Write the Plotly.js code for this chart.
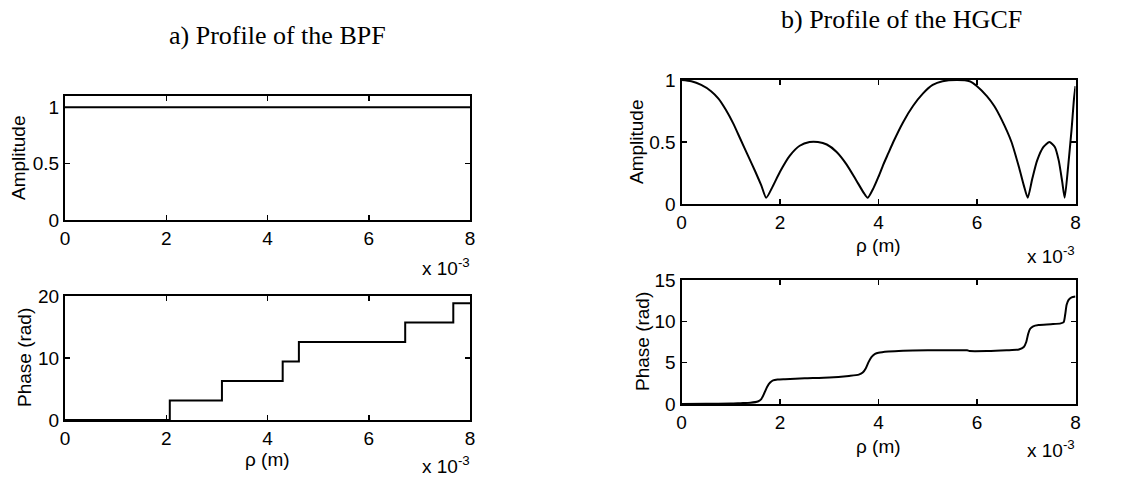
<!DOCTYPE html>
<html>
<head>
<meta charset="utf-8">
<script src="https://cdn.plot.ly/plotly-3.0.1.min.js"></script>
<style>
  html, body { margin: 0; padding: 0; background: #ffffff; }
  #chart { width: 1138px; height: 478px; }
</style>
</head>
<body>
<div id="chart"></div>
<script>
// ---- Data (rho in units of 1e-3 m) ----
var tickValsX = [0, 2, 4, 6, 8];
var tickTextX = ["0", "2", "4", "6", "8"];

// a) BPF
var bpfRho = [0, 8];
var bpfAmp = [1, 1];
var bpfStepRho = [0, 2.07, 3.10, 4.30, 4.62, 6.72, 7.67, 8.0];
var bpfPhase = [0, 3.1416, 6.2832, 9.4248, 12.5664, 15.708, 18.8496, 18.8496];

// b) HGCF
var hgcfRho = [0, 0.2, 0.4, 0.6, 0.75, 0.9, 1.05, 1.2, 1.35, 1.5,
  1.62, 1.72, 1.85, 2.0, 2.2, 2.4, 2.6, 2.77, 2.95, 3.15,
  3.35, 3.55, 3.7, 3.78, 3.9, 4.0, 4.1, 4.2, 4.3, 4.5,
  4.7, 4.9, 5.1, 5.3, 5.6, 5.85, 6.0, 6.2, 6.35, 6.5,
  6.7, 6.85, 6.95, 7.03, 7.12, 7.22, 7.35, 7.47, 7.58, 7.66,
  7.73, 7.78, 7.85, 7.92, 7.97, 8.0];
var hgcfAmp = [1.0, 0.99, 0.96, 0.91, 0.85, 0.76, 0.65, 0.52, 0.39, 0.26,
  0.15, 0.05, 0.14, 0.26, 0.39, 0.47, 0.50, 0.50, 0.48, 0.42,
  0.32, 0.19, 0.09, 0.05, 0.13, 0.22, 0.32, 0.41, 0.50, 0.66,
  0.79, 0.89, 0.96, 0.99, 1.0, 0.99, 0.95, 0.87, 0.79, 0.68,
  0.50, 0.30, 0.15, 0.05, 0.20, 0.35, 0.46, 0.50, 0.46, 0.35,
  0.18, 0.05, 0.30, 0.60, 0.85, 0.95];
var hgcfPhaseRho = [0, 0.5, 1.0, 1.2, 1.4, 1.55, 1.62, 1.68, 1.74, 1.8,
  1.86, 1.95, 2.1, 2.5, 3.0, 3.4, 3.6, 3.68, 3.74, 3.8,
  3.86, 3.93, 4.0, 4.2, 4.5, 5.0, 5.5, 5.8, 5.85, 6.2,
  6.6, 6.85, 6.95, 7.0, 7.04, 7.08, 7.14, 7.25, 7.5, 7.7,
  7.76, 7.79, 7.82, 7.86, 7.92, 8.0];
var hgcfPhase = [0.0, 0.02, 0.05, 0.1, 0.15, 0.3, 0.6, 1.3, 2.1, 2.6,
  2.85, 2.95, 3.0, 3.1, 3.2, 3.4, 3.55, 3.8, 4.3, 5.1,
  5.7, 6.05, 6.2, 6.35, 6.45, 6.5, 6.5, 6.5, 6.4, 6.4,
  6.5, 6.6, 6.9, 7.5, 8.5, 9.1, 9.4, 9.55, 9.65, 9.75,
  9.9, 10.8, 12.0, 12.6, 12.9, 13.0];

// ---- Layout helpers (pixel -> paper) ----
var W = 1138, H = 478;
function px(x) { return x / W; }
function py(y) { return 1 - y / H; }

var tickFont = { family: "Liberation Sans, Arial, sans-serif", size: 19, color: "#000" };
var labelFont = { family: "Liberation Sans, Arial, sans-serif", size: 19, color: "#000" };
var titleFont = { family: "Liberation Serif, Times New Roman, serif", size: 26, color: "#000" };

function xAxis(domain, anchor) {
  return {
    domain: domain, anchor: anchor, range: [0, 8],
    tickvals: tickValsX, ticktext: tickTextX,
    ticks: "inside", ticklen: 5, tickwidth: 1.5, tickcolor: "#000",
    mirror: "ticks", showline: true, linecolor: "#000", linewidth: 2,
    showgrid: false, zeroline: false, tickfont: tickFont, fixedrange: true
  };
}
function yAxis(domain, anchor, range, vals) {
  return {
    domain: domain, anchor: anchor, range: range,
    tickvals: vals, ticks: "inside", ticklen: 5, tickwidth: 1.5, tickcolor: "#000",
    mirror: "ticks", showline: true, linecolor: "#000", linewidth: 2,
    showgrid: false, zeroline: false, tickfont: tickFont, fixedrange: true
  };
}

var lineStyle = { color: "#000", width: 2 };
var smoothStyle = { color: "#000", width: 2, shape: "spline", smoothing: 0.6 };

var traces = [
  { x: bpfRho, y: bpfAmp, xaxis: "x", yaxis: "y", mode: "lines", line: lineStyle, hoverinfo: "skip" },
  { x: bpfStepRho, y: bpfPhase, xaxis: "x2", yaxis: "y2", mode: "lines",
    line: { color: "#000", width: 2, shape: "hv" }, hoverinfo: "skip" },
  { x: hgcfRho, y: hgcfAmp, xaxis: "x3", yaxis: "y3", mode: "lines", line: smoothStyle, hoverinfo: "skip" },
  { x: hgcfPhaseRho, y: hgcfPhase, xaxis: "x4", yaxis: "y4", mode: "lines", line: smoothStyle, hoverinfo: "skip" }
];

var xL = [px(65), px(470)];
var xR = [px(681.5), px(1075.5)];

function ann(text, x, y, font, xanchor, yanchor, angle) {
  var a = { text: text, xref: "paper", yref: "paper", x: px(x), y: py(y),
    showarrow: false, font: font, xanchor: xanchor || "center", yanchor: yanchor || "middle" };
  if (angle !== undefined) a.textangle = angle;
  return a;
}

var layout = {
  width: W, height: H,
  margin: { l: 0, r: 0, t: 0, b: 0 },
  paper_bgcolor: "#fff", plot_bgcolor: "#fff",
  showlegend: false,
  xaxis: xAxis(xL, "y"),
  yaxis: yAxis([py(220), py(96)], "x", [0, 1.1], [0, 0.5, 1]),
  xaxis2: xAxis(xL, "y2"),
  yaxis2: yAxis([py(420), py(296)], "x2", [0, 20], [0, 10, 20]),
  xaxis3: xAxis(xR, "y3"),
  yaxis3: yAxis([py(204), py(80)], "x3", [0, 1], [0, 0.5, 1]),
  xaxis4: xAxis(xR, "y4"),
  yaxis4: yAxis([py(404), py(280)], "x4", [0, 15], [0, 5, 10, 15]),
  annotations: [
    ann("a) Profile of the BPF", 277, 35, titleFont),
    ann("b) Profile of the HGCF", 901, 19, titleFont),
    ann("Amplitude", 18, 158, labelFont, "center", "middle", -90),
    ann("Phase (rad)", 24, 358, labelFont, "center", "middle", -90),
    ann("Amplitude", 637, 142, labelFont, "center", "middle", -90),
    ann("Phase (rad)", 642, 342, labelFont, "center", "middle", -90),
    ann("ρ (m)", 267, 459, labelFont),
    ann("ρ (m)", 878, 245, labelFont),
    ann("ρ (m)", 878, 446, labelFont),
    ann("x 10<sup>-3</sup>", 472, 267, labelFont, "right", "middle"),
    ann("x 10<sup>-3</sup>", 472, 465, labelFont, "right", "middle"),
    ann("x 10<sup>-3</sup>", 1077, 255, labelFont, "right", "middle"),
    ann("x 10<sup>-3</sup>", 1077, 449, labelFont, "right", "middle")
  ]
};

Plotly.newPlot("chart", traces, layout, { displayModeBar: false, staticPlot: true });
</script>
</body>
</html>
